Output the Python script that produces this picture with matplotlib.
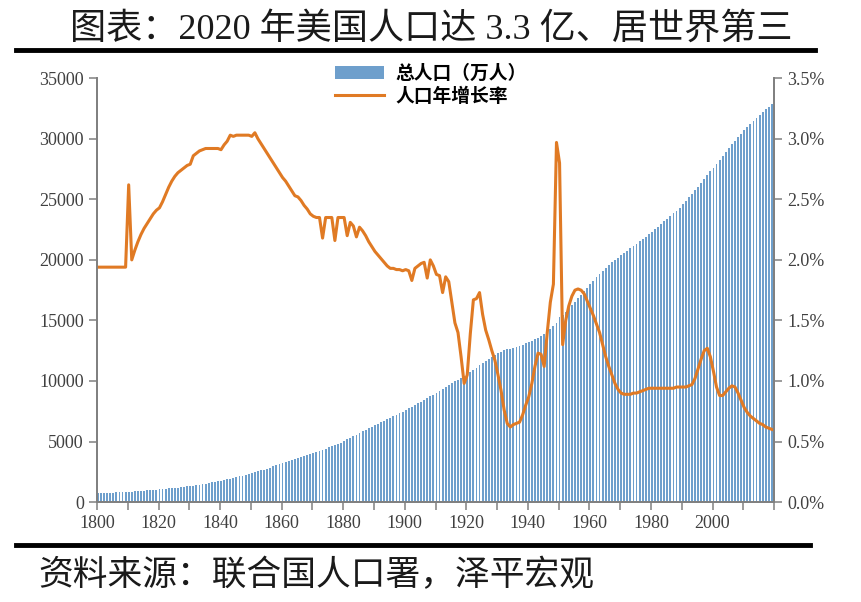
import matplotlib
matplotlib.use('Agg')
import matplotlib.pyplot as plt
import matplotlib.ticker as mticker
import numpy as np

plt.rcParams['font.family'] = ['Liberation Serif', 'Noto Sans CJK SC']

years = list(range(1800, 2020))

# 总人口（万人）, one value per year 1800-2019
population = [
    720, 732, 744, 756, 768, 781, 794, 807, 821, 835,
    850, 867, 885, 903, 921, 940, 960, 982, 1003, 1025,
    1048, 1072, 1097, 1122, 1148, 1175, 1203, 1232, 1262, 1293,
    1330, 1368, 1407, 1447, 1488, 1530, 1574, 1619, 1665, 1713,
    1765, 1818, 1873, 1930, 1989, 2050, 2113, 2178, 2245, 2314,
    2385, 2458, 2533, 2610, 2689, 2770, 2853, 2938, 3025, 3114,
    3205, 3290, 3375, 3460, 3545, 3630, 3715, 3800, 3885, 3970,
    4060, 4150, 4240, 4330, 4420, 4510, 4600, 4690, 4780, 4870,
    5060, 5190, 5320, 5450, 5580, 5710, 5840, 5970, 6100, 6230,
    6360, 6480, 6600, 6720, 6840, 6960, 7080, 7200, 7320, 7440,
    7600, 7740, 7880, 8020, 8160, 8300, 8440, 8580, 8720, 8860,
    9000, 9160, 9320, 9480, 9640, 9800, 9960, 10120, 10260, 10400,
    10560, 10740, 10920, 11100, 11290, 11480, 11660, 11840, 12010, 12180,
    12340, 12430, 12520, 12600, 12680, 12760, 12840, 12920, 13010, 13100,
    13200, 13310, 13430, 13580, 13720, 13870, 14040, 14260, 14510, 14800,
    15250, 15480, 15730, 15990, 16260, 16540, 16820, 17110, 17400, 17700,
    18000, 18290, 18570, 18840, 19100, 19350, 19580, 19800, 20000, 20190,
    20380, 20570, 20760, 20950, 21140, 21330, 21520, 21720, 21920, 22120,
    22330, 22540, 22750, 22960, 23180, 23400, 23620, 23840, 24060, 24290,
    24600, 24880, 25160, 25450, 25740, 26040, 26340, 26650, 26970, 27300,
    27630, 27960, 28280, 28600, 28910, 29220, 29530, 29830, 30130, 30420,
    30700, 30970, 31240, 31500, 31750, 31990, 32220, 32440, 32650, 32850,
]

# 人口年增长率 (%), one value per year 1800-2019
growth = [
    1.94, 1.94, 1.94, 1.94, 1.94, 1.94, 1.94, 1.94, 1.94, 1.94,
    2.62, 2.00, 2.08, 2.15, 2.21, 2.26, 2.30, 2.34, 2.38, 2.41,
    2.43, 2.48, 2.54, 2.60, 2.65, 2.69, 2.72, 2.74, 2.76, 2.78,
    2.79, 2.86, 2.88, 2.90, 2.91, 2.92, 2.92, 2.92, 2.92, 2.92,
    2.91, 2.95, 2.98, 3.03, 3.02, 3.03, 3.03, 3.03, 3.03, 3.03,
    3.02, 3.05, 3.00, 2.96, 2.92, 2.88, 2.84, 2.80, 2.76, 2.72,
    2.68, 2.65, 2.61, 2.57, 2.53, 2.52, 2.49, 2.45, 2.42, 2.38,
    2.36, 2.35, 2.35, 2.18, 2.35, 2.35, 2.35, 2.16, 2.35, 2.35,
    2.35, 2.20, 2.31, 2.28, 2.19, 2.27, 2.24, 2.20, 2.15, 2.11,
    2.07, 2.04, 2.01, 1.98, 1.95, 1.93, 1.93, 1.92, 1.92, 1.91,
    1.92, 1.91, 1.83, 1.93, 1.95, 1.97, 1.98, 1.85, 2.00, 1.95,
    1.88, 1.87, 1.73, 1.86, 1.82, 1.65, 1.48, 1.40, 1.20, 0.98,
    1.05, 1.39, 1.67, 1.68, 1.73, 1.55, 1.42, 1.34, 1.25, 1.17,
    1.05, 0.92, 0.76, 0.65, 0.62, 0.64, 0.65, 0.66, 0.72, 0.80,
    0.87, 0.98, 1.12, 1.23, 1.22, 1.12, 1.40, 1.65, 1.80, 2.97,
    2.80, 1.30, 1.50, 1.62, 1.70, 1.75, 1.76, 1.75, 1.72, 1.66,
    1.60, 1.54, 1.47, 1.40, 1.30, 1.20, 1.12, 1.05, 0.98, 0.93,
    0.90, 0.89, 0.89, 0.89, 0.90, 0.90, 0.91, 0.92, 0.93, 0.94,
    0.94, 0.94, 0.94, 0.94, 0.94, 0.94, 0.94, 0.94, 0.95, 0.95,
    0.95, 0.95, 0.96, 0.97, 1.02, 1.10, 1.18, 1.25, 1.27, 1.20,
    1.08, 0.95, 0.88, 0.88, 0.91, 0.94, 0.96, 0.95, 0.90, 0.84,
    0.78, 0.74, 0.71, 0.69, 0.67, 0.65, 0.64, 0.62, 0.61, 0.60,
]

title = '图表：2020 年美国人口达 3.3 亿、居世界第三'
source = '资料来源：联合国人口署，泽平宏观'

fig = plt.figure(figsize=(8.62, 6.02), dpi=100)
ax = fig.add_axes([0.1125, 0.166, 0.7855, 0.704])
ax2 = ax.twinx()

bars = ax.bar(years, population, width=0.6, align='edge', color='#6e9fcc',
              edgecolor='none', label='总人口（万人）')
line, = ax2.plot(np.array(years) + 0.3, np.array(growth) / 100, color='#e07a24',
                 lw=2.2, label='人口年增长率')

ax.set_xlim(1800, 2020)
ax.set_ylim(0, 35000)
ax2.set_ylim(0, 0.035)
ax.set_yticks(np.arange(0, 35001, 5000))
ax2.set_yticks(np.arange(0, 0.0351, 0.005))
ax2.yaxis.set_major_formatter(mticker.FuncFormatter(lambda v, p: '%.1f%%' % (v * 100)))
ax.set_xticks(np.arange(1800, 2001, 20))
ax.set_xticks(np.arange(1800, 2021, 10), minor=True)

grey = '#808080'
for a in (ax, ax2):
    a.spines['top'].set_visible(False)
    for s in ('left', 'right', 'bottom'):
        a.spines[s].set_color(grey)
        a.spines[s].set_linewidth(1.3)
    a.tick_params(which='both', colors=grey, length=6, width=1.1,
                  labelcolor='#404040', labelsize=13)
ax.tick_params(axis='x', which='minor', length=6)

fig.legend(handles=[bars, line], loc='upper center', bbox_to_anchor=(0.5, 0.912),
           frameon=False, prop={'family': 'Noto Sans CJK SC', 'weight': 'bold', 'size': 13.5},
           handlelength=2.6, handletextpad=0.6, labelspacing=0.2, borderpad=0.1)

fig.text(0.5, 0.950, title, ha='center', va='center', fontsize=26,
         family=['Liberation Serif', 'Noto Sans CJK SC'], color='#1a1a1a')
fig.add_artist(plt.Line2D([0.018, 0.945], [0.917, 0.917], color='black', lw=3.5))
fig.add_artist(plt.Line2D([0.018, 0.94], [0.095, 0.095], color='black', lw=3.5))
fig.text(0.045, 0.044, source, ha='left', va='center', fontsize=25,
         family=['Noto Sans CJK SC'], color='#1a1a1a')

fig.savefig('out.png', dpi=100)
